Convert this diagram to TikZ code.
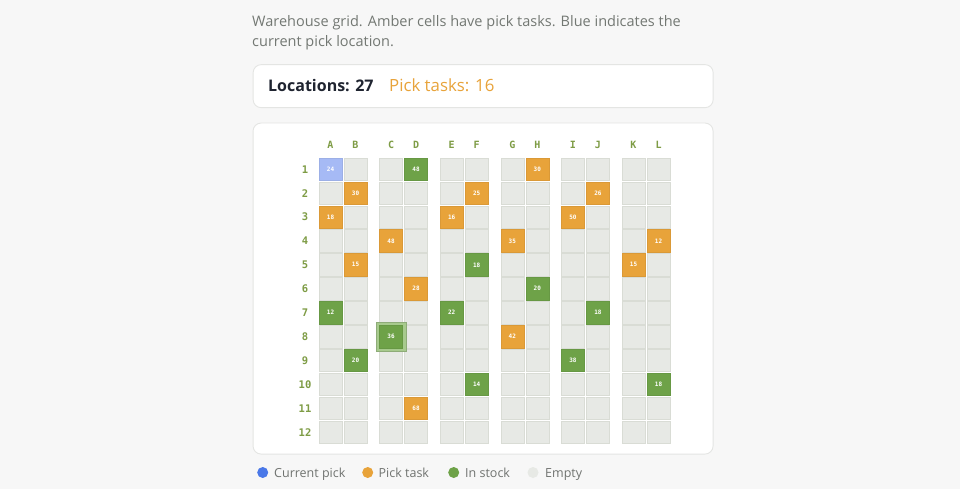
\documentclass[tikz,border=0pt]{standalone}
\usepackage{fontspec}
\setmainfont{Open Sans}
\newfontfamily\monof{DejaVu Sans Mono}
\definecolor{bgc}{HTML}{F7F7F7}
\definecolor{cardborder}{HTML}{E4E5E3}
\definecolor{desc}{HTML}{737873}
\definecolor{darktxt}{HTML}{1F2430}
\definecolor{amber}{HTML}{E8A33A}
\definecolor{grn}{HTML}{6EA248}
\definecolor{grnring}{HTML}{A7CA8D}
\definecolor{bluecur}{HTML}{A6BAF5}
\definecolor{bluedot}{HTML}{4A78E8}
\definecolor{emptyc}{HTML}{E7E9E5}
\definecolor{emptyb}{HTML}{D9DCD5}
\definecolor{lbl}{HTML}{7E9C45}
\definecolor{legtxt}{HTML}{707370}
\tikzset{
  card/.style={draw=cardborder, line width=0.9pt, fill=white, rounded corners=8pt},
  cellbox/.style={minimum width=23pt, minimum height=22.5pt, inner sep=0pt, draw=emptyb, line width=0.6pt, fill=emptyc},
  filled/.style={cellbox, draw=#1!94!black, fill=#1, text=white, font=\monof\bfseries\fontsize{6}{6}\selectfont},
  collbl/.style={font=\monof\bfseries\fontsize{10}{10}\selectfont, text=lbl, inner sep=0pt},
  rowlbl/.style={font=\monof\bfseries\fontsize{10.5}{10}\selectfont, text=lbl, inner sep=0pt},
  dot/.style={circle, minimum size=11pt, inner sep=0pt, fill=#1},
  legtext/.style={font=\fontsize{12.5}{13}\selectfont, text=legtxt, anchor=base west, inner sep=0pt},
}
\begin{document}
\begin{tikzpicture}[x=1pt,y=-1pt]
\useasboundingbox (0,0) rectangle (960,489);
\fill[bgc] (0,0) rectangle (960,489);
% description
\node[anchor=north west, inner sep=0pt, text=desc, align=left, font=\fontsize{14.5}{20}\selectfont] (desc) at (252,15)
  {Warehouse grid. Amber cells have pick tasks. Blue indicates the\\current pick location.};
% stats card
\node[card, minimum width=460pt, minimum height=43pt, anchor=north west] (stats) at (252.7,64.2) {};
\node[anchor=base west, inner sep=0pt, text=darktxt, font=\fontsize{16}{17}\selectfont\bfseries] (loc) at (268,92) {Locations: 27};
\node[anchor=base west, inner sep=0pt, text=amber, font=\fontsize{16.8}{17}\selectfont] (pick) at (389,92) {Pick tasks: 16};
% grid card
\node[card, minimum width=460pt, minimum height=331pt, anchor=north west] (gridcard) at (252.6,122.6) {};
% columns
\foreach \L [count=\c from 0] in {A,B,C,D,E,F,G,H,I,J,K,L} {
  \pgfmathsetmacro{\px}{319 + 60.6*int(\c/2) + 25*mod(\c,2) + 11.5}
  \node[collbl] (col\L) at (\px,145) {\L};
  \foreach \r in {1,...,12} {
    \pgfmathsetmacro{\py}{158 + 23.9*(\r-1) + 11.25}
    \coordinate (\L\r) at (\px,\py);
    \node[cellbox] (e\L\r) at (\L\r) {};
  }
}
\foreach \r in {1,...,12} {
  \pgfmathsetmacro{\py}{158 + 23.9*(\r-1) + 11.25}
  \node[rowlbl] (row\r) at (305,\py) {\r};
}
% current pick
\node[filled=bluecur] (fA1) at (A1) {24};
% pick tasks (amber)
\foreach \cellid/\val in {H1/30,B2/30,F2/25,J2/26,A3/18,E3/16,I3/50,C4/48,G4/35,L4/12,B5/15,K5/15,D6/28,G8/42,D11/68} {
  \node[filled=amber] (f\cellid) at (\cellid) {\val};
}
% highlight ring for C8
\node[minimum size=29.5pt, inner sep=0pt, fill=grnring, draw=grnring!85!black, line width=0.5pt] (ringC8) at (C8) {};
% in stock (green)
\foreach \cellid/\val in {D1/48,F5/18,H6/20,A7/12,E7/22,J7/18,C8/36,B9/20,I9/38,F10/14,L10/18} {
  \node[filled=grn] (f\cellid) at (\cellid) {\val};
}
% legend
\node[dot=bluedot] (d1) at (262.7,472.5) {};
\node[legtext] (t1) at (274,477) {Current pick};
\node[dot=amber] (d2) at (367.7,472.5) {};
\node[legtext] (t2) at (378.5,477) {Pick task};
\node[dot=grn] (d3) at (453.7,472.5) {};
\node[legtext] (t3) at (465,477) {In stock};
\node[dot=emptyc] (d4) at (533,472.5) {};
\node[legtext] (t4) at (545,477) {Empty};
\end{tikzpicture}
\end{document}
